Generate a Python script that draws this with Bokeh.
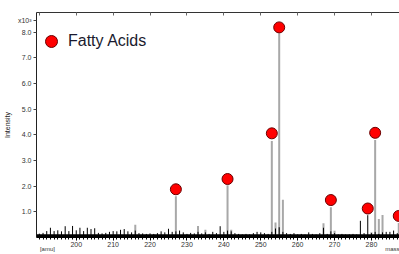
from bokeh.plotting import figure
from bokeh.models import (Range1d, LinearAxis, FixedTicker,
                          PrintfTickFormatter, Legend, LegendItem, Span)
from bokeh.embed import file_html
from bokeh.resources import INLINE

# ---- data ----
# fatty acid peaks (gray sticks with red markers)
FA_MASS = [227, 241, 253, 255, 269, 281, 287.4]
FA_HEIGHT = [1.61, 2.04, 3.76, 7.96, 1.18, 3.80, 0.57]
FA_MARK_MASS = [227, 241, 253, 255, 269, 279, 281, 287.4]
FA_MARK = [1.88, 2.28, 4.06, 8.19, 1.46, 1.13, 4.08, 0.84]

# other gray peaks
GRAY_MASS = [216, 233, 235, 242, 254, 256, 267, 270, 280, 282, 283]
GRAY_HEIGHT = [0.50, 0.45, 0.30, 0.30, 0.58, 1.47, 0.56, 0.26, 0.20, 0.72, 0.88]

# black noise sticks, one per nominal mass 189..287
NOISE_MASS = list(range(189, 288))
NOISE_HEIGHT = [
    0.12, 0.15, 0.18, 0.25, 0.38, 0.25, 0.28, 0.24, 0.44, 0.25,   # 189-198
    0.45, 0.28, 0.38, 0.25, 0.38, 0.33, 0.36, 0.18, 0.16, 0.18,   # 199-208
    0.22, 0.25, 0.24, 0.30, 0.33, 0.24, 0.20, 0.27, 0.17, 0.16,   # 209-218
    0.14, 0.16, 0.14, 0.17, 0.24, 0.20, 0.34, 0.22, 0.24, 0.27,   # 219-228
    0.20, 0.14, 0.18, 0.16, 0.22, 0.16, 0.20, 0.14, 0.22, 0.17,   # 229-238
    0.44, 0.22, 0.27, 0.24, 0.17, 0.14, 0.12, 0.14, 0.12, 0.17,   # 239-248
    0.22, 0.20, 0.17, 0.14, 0.22, 0.35, 0.40, 0.22, 0.17, 0.14,   # 249-258
    0.17, 0.12, 0.14, 0.12, 0.20, 0.14, 0.12, 0.17, 0.38, 0.14,   # 259-268
    0.24, 0.17, 0.12, 0.14, 0.12, 0.12, 0.14, 0.12, 0.65, 0.17,   # 269-278
    0.87, 0.17, 0.22, 0.14, 0.20, 0.22, 0.22, 0.27, 0.17,         # 279-287
]

X_TICKS = [200, 210, 220, 230, 240, 250, 260, 270, 280]
X_MINOR_TICKS = list(range(190, 288))
TOP_TICKS = [190, 200, 210, 220, 230, 240, 250, 260, 270, 280]
Y_TICKS = [1, 2, 3, 4, 5, 6, 7, 8]
Y_SCALE_TICK = 8.47            # where the "x10³" multiplier sits
UNIT_TICKS = [192.2, 286.6]    # where "[amu]" and "mass" sit under the axis
X_START, X_END = 189.23, 287.6
Y_START, Y_END = 0.0, 8.77
BASE = 0.07

FONT = "Liberation Sans"
TICK_COLOR = "#333333"

p = figure(width=399, height=254, output_backend="svg", toolbar_location=None,
           x_range=Range1d(X_START, X_END), y_range=Range1d(Y_START, Y_END),
           min_border_left=34, min_border_right=0, min_border_top=12,
           min_border_bottom=17, x_axis_type=None, y_axis_type=None)
p.grid.visible = False
p.outline_line_color = None
p.background_fill_color = "white"
p.border_fill_color = "white"

# bottom axis
xb = LinearAxis(ticker=FixedTicker(ticks=X_TICKS, minor_ticks=X_MINOR_TICKS))
xb.major_tick_out = 3
xb.major_tick_in = 0
xb.minor_tick_out = 2
xb.minor_tick_in = 0
xb.major_label_standoff = 1
xb.major_label_text_font = FONT
xb.major_label_text_font_size = "7px"
xb.major_label_text_color = TICK_COLOR
xb.axis_line_color = "black"
xb.major_tick_line_color = "black"
xb.minor_tick_line_color = "black"
p.add_layout(xb, "below")

# second row under the axis: unit texts
xu = LinearAxis(ticker=FixedTicker(ticks=UNIT_TICKS, minor_ticks=[]),
                major_label_overrides={UNIT_TICKS[0]: "[amu]", UNIT_TICKS[1]: "mass"})
xu.axis_line_color = None
xu.major_tick_line_color = None
xu.minor_tick_line_color = None
xu.major_tick_out = 0
xu.major_tick_in = 0
xu.major_label_standoff = -4
xu.major_label_text_font = FONT
xu.major_label_text_font_size = "6px"
xu.major_label_text_color = "#333333"
p.add_layout(xu, "below")

# top axis (minor ticks only, pointing inward)
xt = LinearAxis(ticker=FixedTicker(ticks=[], minor_ticks=TOP_TICKS))
xt.major_tick_out = 0
xt.major_tick_in = 0
xt.minor_tick_out = 0
xt.minor_tick_in = 3
xt.axis_line_color = "#333333"
xt.minor_tick_line_color = "#666666"
p.add_layout(xt, "above")

# left axis
yl = LinearAxis(ticker=FixedTicker(ticks=Y_TICKS + [Y_SCALE_TICK]),
                formatter=PrintfTickFormatter(format="%.1f"),
                major_label_overrides={Y_SCALE_TICK: "x10³"})
yl.major_tick_out = 3
yl.major_tick_in = 0
yl.minor_tick_line_color = None
yl.major_label_standoff = 2
yl.major_label_text_font = FONT
yl.major_label_text_font_size = "7px"
yl.major_label_text_color = TICK_COLOR
yl.axis_label = "Intensity"
yl.axis_label_text_font = FONT
yl.axis_label_text_font_size = "7px"
yl.axis_label_text_font_style = "normal"
yl.axis_label_text_color = "#222222"
yl.axis_label_standoff = 4
yl.axis_line_color = "#222222"
yl.major_tick_line_color = "#444444"
p.add_layout(yl, "left")

# sticks
p.segment(x0=GRAY_MASS, y0=[Y_START] * len(GRAY_MASS), x1=GRAY_MASS, y1=GRAY_HEIGHT,
          line_color="#a8a8a8", line_width=2)
p.segment(x0=FA_MASS, y0=[Y_START] * len(FA_MASS), x1=FA_MASS, y1=FA_HEIGHT,
          line_color="#a8a8a8", line_width=2)
p.segment(x0=NOISE_MASS, y0=[Y_START] * len(NOISE_MASS), x1=NOISE_MASS, y1=NOISE_HEIGHT,
          line_color="black", line_width=1)
p.add_layout(Span(location=BASE, dimension="width", line_color="black", line_width=3))

fa = p.scatter(FA_MARK_MASS, FA_MARK, size=11, marker="circle",
               fill_color="#ff0000", line_color="#6a0000", line_width=1)

legend = Legend(items=[LegendItem(label="Fatty Acids", renderers=[fa])],
                location=(0, 181), padding=0, margin=0, spacing=0,
                glyph_width=30, glyph_height=30, label_standoff=2,
                label_text_font=FONT, label_text_font_size="16px",
                label_text_color="#1a1a2e",
                border_line_alpha=0, background_fill_alpha=0)
p.add_layout(legend)

open("out.html", "w").write(file_html(p, INLINE))
